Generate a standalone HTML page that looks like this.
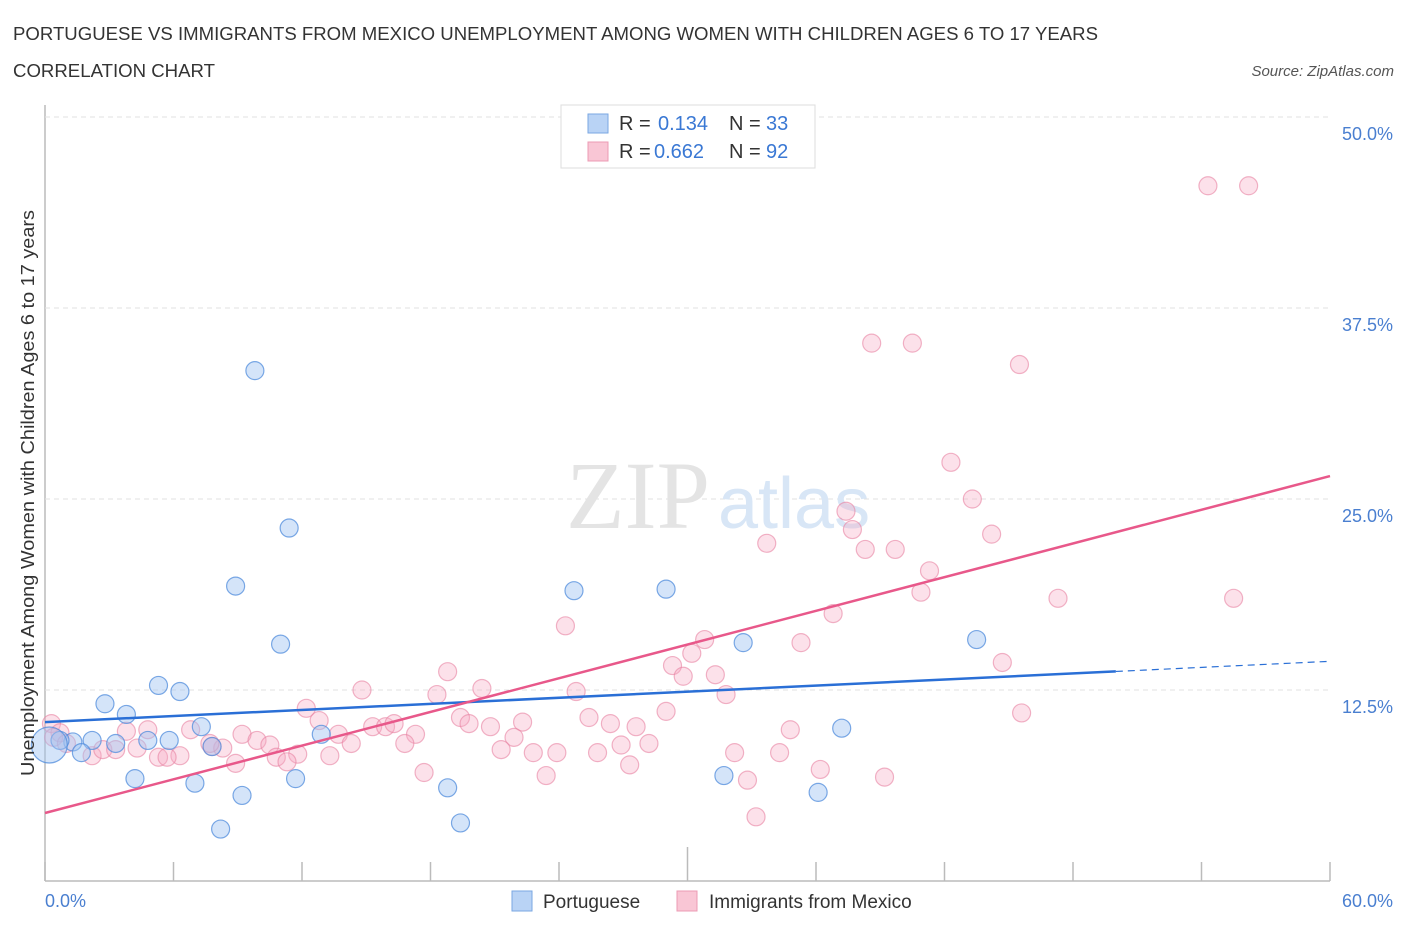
<!DOCTYPE html>
<html><head><meta charset="utf-8"><style>
body{margin:0;background:#fff;font-family:"Liberation Sans",sans-serif;}
svg{display:block}
</style></head><body>
<svg id="c" width="1406" height="930">
<text x="13" y="40" font-size="18" fill="#333" textLength="1085" lengthAdjust="spacingAndGlyphs">PORTUGUESE VS IMMIGRANTS FROM MEXICO UNEMPLOYMENT AMONG WOMEN WITH CHILDREN AGES 6 TO 17 YEARS</text>
<text x="13" y="77" font-size="18" fill="#333" textLength="202" lengthAdjust="spacingAndGlyphs">CORRELATION CHART</text>
<text x="1394" y="76" font-size="15" fill="#555" font-style="italic" text-anchor="end">Source: ZipAtlas.com</text>
<g id="grid"></g>
<text x="710" y="528" font-size="96" fill="#e4e4e4" text-anchor="end" font-family="Liberation Serif">ZIP</text>
<text x="718" y="528" font-size="72" fill="#d8e6f6">atlas</text>
<g id="pts"></g>
<g id="lines"></g>
<text transform="translate(34,493) rotate(-90)" font-size="18" fill="#333" text-anchor="middle" textLength="566" lengthAdjust="spacingAndGlyphs">Unemployment Among Women with Children Ages 6 to 17 years</text>
<text x="45" y="907" font-size="18" fill="#4a7fd0">0.0%</text>
<text x="1393" y="907" font-size="18" fill="#4a7fd0" text-anchor="end">60.0%</text>
<g>
<rect x="561" y="105" width="254" height="63" fill="#fff" stroke="#ddd"/>
<rect x="588" y="114" width="20" height="19" fill="#b9d3f5" stroke="#7aa7e2"/>
<rect x="588" y="142" width="20" height="19" fill="#f9c6d5" stroke="#ec9bb4"/>
<text x="619" y="130" font-size="20" fill="#333">R = </text><text x="658" y="130" font-size="20" fill="#3a78d4">0.134</text>
<text x="729" y="130" font-size="20" fill="#333">N = </text><text x="766" y="130" font-size="20" fill="#3a78d4">33</text>
<text x="619" y="158" font-size="20" fill="#333">R = </text><text x="654" y="158" font-size="20" fill="#3a78d4">0.662</text>
<text x="729" y="158" font-size="20" fill="#333">N = </text><text x="766" y="158" font-size="20" fill="#3a78d4">92</text>
</g>
<g>
<rect x="512" y="891" width="20" height="20" fill="#b9d3f5" stroke="#7aa7e2"/>
<text x="543" y="908" font-size="19" fill="#333">Portuguese</text>
<rect x="677" y="891" width="20" height="20" fill="#f9c6d5" stroke="#ec9bb4"/>
<text x="709" y="908" font-size="19" fill="#333">Immigrants from Mexico</text>
</g>
</svg>
<script>
const yTicks=[12.5,25,37.5,50];
const yTickLabels=["12.5%","25.0%","37.5%","50.0%"];
const xTicks=[0,6,12,18,24,30,36,42,48,54,60];
const portX=[9.8,11.4,8.9,11.0,24.7,29.0,32.6,43.5,2.8,3.8,5.3,6.3,7.3,4.8,5.8,7.8,3.3,2.2,1.3,0.7,1.7,12.9,37.2,4.2,7.0,9.2,11.7,18.8,8.2,19.4,31.7,36.1,0.2];
const portY=[33.4,23.1,19.3,15.5,19.0,19.1,15.6,15.8,11.6,10.9,12.8,12.4,10.1,9.2,9.2,8.8,9.0,9.2,9.1,9.2,8.4,9.6,10.0,6.7,6.4,5.6,6.7,6.1,3.4,3.8,6.9,5.8,8.9];
const mexX=[54.3,56.2,38.6,40.5,45.5,42.3,43.3,37.4,37.7,33.7,38.3,39.7,44.2,41.3,40.9,47.3,55.5,24.3,36.8,30.8,35.3,30.2,29.3,29.8,31.3,44.7,18.8,14.8,20.4,24.8,18.3,12.2,31.8,29.0,45.6,0.3,0.7,4.8,6.8,12.8,19.4,19.8,22.3,25.4,26.4,27.6,20.8,15.3,15.9,16.3,13.7,9.2,17.3,34.8,0.4,1.0,3.8,9.9,7.8,8.3,6.3,5.3,5.7,2.2,2.7,4.3,3.3,10.5,14.3,16.8,21.9,26.9,28.2,11.8,10.8,11.3,8.9,13.3,21.3,22.8,23.9,25.8,27.3,32.2,34.3,17.7,23.4,36.2,32.8,39.2,33.2,7.7];
const mexY=[45.5,45.5,35.2,35.2,33.8,27.4,25.0,24.2,23.0,22.1,21.7,21.7,22.7,20.3,18.9,18.5,18.5,16.7,17.5,15.8,15.6,14.9,14.1,13.4,13.5,14.3,13.7,12.5,12.6,12.4,12.2,11.3,12.2,11.1,11.0,10.3,9.7,9.9,9.9,10.5,10.7,10.3,10.4,10.7,10.3,10.1,10.1,10.1,10.1,10.3,9.6,9.6,9.6,9.9,9.4,9.0,9.8,9.2,8.8,8.7,8.2,8.1,8.1,8.2,8.6,8.7,8.6,8.9,9.0,9.0,9.4,8.9,9.0,8.3,8.1,7.8,7.7,8.2,8.6,8.4,8.4,8.4,7.6,8.4,8.4,7.1,6.9,7.3,6.6,6.8,4.2,9.0];
const portFit=[10.4,0.0663];
const mexFit=[4.45,0.3675];
const X=v=>45+v/60*1285, Y=v=>881-v*15.28;
const NS="http://www.w3.org/2000/svg";
function mk(t,a,p){const e=document.createElementNS(NS,t);for(const k in a)e.setAttribute(k,a[k]);p.appendChild(e);return e;}
const g=document.getElementById('grid');
const ax=mk('line',{x1:45,y1:105,x2:45,y2:881,stroke:'#bbb','stroke-width':1.5},g);


const bx=mk('line',{x1:45,y1:881,x2:1330,y2:881,stroke:'#bbb','stroke-width':1.5},g);


yTicks.forEach((v,i)=>{
 const l=mk('line',{x1:45,y1:Y(v),x2:1330,y2:Y(v),stroke:'#e2e2e2','stroke-dasharray':'5,4'},g);
 
 
 const t=mk('text',{x:1393,y:Y(v)+23,'font-size':18,fill:'#4a7fd0','text-anchor':'end'},g);
 t.textContent=yTickLabels[i];
 
 
});
xTicks.forEach(v=>{
 const l=mk('line',{x1:X(v),y1:(v===30?847:862),x2:X(v),y2:881,stroke:'#bbb','stroke-width':1.5},g);
 
 
});
const P=document.getElementById('pts');
mexX.forEach((x,i)=>{
 const c=mk('circle',{cx:X(x),cy:Y(mexY[i]),r:9,fill:'rgba(246,170,195,0.35)',stroke:'rgba(232,130,162,0.6)','stroke-width':1.2},P);
 
 
});
portX.forEach((x,i)=>{
 const c=mk('circle',{cx:X(x),cy:Y(portY[i]),r:(i===portX.length-1?18:9),fill:'rgba(160,196,242,0.45)',stroke:'rgba(80,140,220,0.75)','stroke-width':1.2},P);
 
 
});
const L=document.getElementById('lines');
const b1=mk('line',{x1:X(0),y1:Y(portFit[0]),x2:X(50),y2:Y(portFit[0]+portFit[1]*50),stroke:'#2a6fd6','stroke-width':2.5},L);


const b2=mk('line',{x1:X(50),y1:Y(portFit[0]+portFit[1]*50),x2:X(60),y2:Y(portFit[0]+portFit[1]*60),stroke:'#2a6fd6','stroke-width':1.2,'stroke-dasharray':'7,5'},L);


const m1=mk('line',{x1:X(0),y1:Y(mexFit[0]),x2:X(60),y2:Y(mexFit[0]+mexFit[1]*60),stroke:'#e8588a','stroke-width':2.5},L);


</script>
</body></html>
